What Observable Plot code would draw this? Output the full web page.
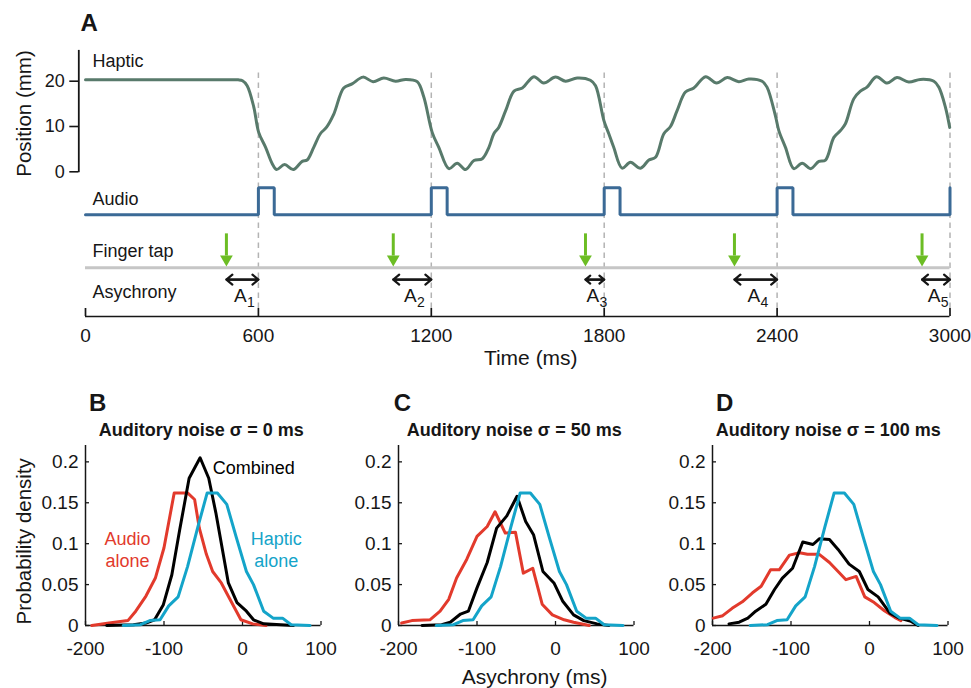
<!DOCTYPE html>
<html><head><meta charset="utf-8">
<script src="https://cdn.jsdelivr.net/npm/d3@7"></script>
<script src="https://cdn.jsdelivr.net/npm/@observablehq/plot@0.6"></script>
<style>
body{margin:0;background:#fff;}
#fig{position:relative;width:971px;height:688px;overflow:hidden;font-family:"Liberation Sans",Arial,Helvetica,sans-serif;}
#fig svg{position:absolute;}
</style></head><body><div id="fig"></div>
<script>
// ---------------- DATA ----------------
// Panel A
const timeTicks = [0, 600, 1200, 1800, 2400, 3000];
const stimOnsets = [600, 1200, 1800, 2400, 3000];
const pulseWidth = 55;
const tapTimes = [489, 1068, 1735, 2252, 2903];
const asyncNames = ["1", "2", "3", "4", "5"];
const hapticT = [0,180,360,500,530,545,561,584,601,625,648,663,691,721,752,769,792,815,836,862,896,925,963,998,1035,1076,1111,1151,1174,1203,1226,1261,1290,1319,1348,1377,1400,1417,1434,1458,1487,1516,1556,1590,1631,1666,1706,1752,1770,1799,1816,1833,1862,1891,1926,1955,1978,2007,2030,2053,2082,2111,2152,2190,2227,2267,2302,2348,2365,2394,2406,2429,2458,2487,2516,2545,2568,2597,2620,2637,2666,2689,2712,2745,2782,2816,2857,2897,2944,2961,2984,2999];
const hapticPos = [20.3,20.3,20.3,20.3,20.3,20.1,19,14.3,8.7,5.4,1.8,0.5,1.6,0.5,2.3,2.6,5.4,8.4,9.8,12.8,18.5,19.4,20.9,19.9,20.7,20,20.4,19.9,16.5,8.7,5.4,0.7,1.9,0.5,2.5,2.9,5.4,8.4,9.8,13.5,17.8,18.5,21,19.6,20.9,20,20.7,20.2,19,11.3,8.4,5.4,0.8,2.1,0.8,2.6,3.2,8.4,10,13.5,17.6,18.5,21,19.6,20.8,19.9,20.5,20,18.7,12.4,9.1,5.4,0.7,1.9,0.7,2.3,2.6,7.6,9.1,10.6,16.1,17.8,18.7,21,19.6,20.8,19.8,20.4,20,18.7,14.3,9.8];
const laneNames = ["Haptic", "Audio", "Finger tap", "Asychrony"];

// Panels B-D
const asyncTicks = [-200, -100, 0, 100];
const densityTicks = [0, 0.05, 0.1, 0.15, 0.2];
const hapticAloneX = [-152,-130,-118,-105,-94,-82,-70,-57,-45,-32,-20,-8,5,14,27,39,51,62,86];
const hapticAloneY = [0,0.001,0.006,0.007,0.024,0.035,0.072,0.12,0.162,0.162,0.148,0.108,0.066,0.05,0.0175,0.009,0.009,0.001,0];
const audioB_X = [-192,-170,-146,-136,-123,-111,-100,-87,-70,-61,-55,-46,-38,-27,-17,-2,13,30];
const audioB_Y = [0,0.003,0.006,0.0175,0.036,0.058,0.095,0.162,0.162,0.154,0.119,0.087,0.066,0.052,0.034,0.007,0.002,0];
const combinedB_X = [-173,-139,-123,-112,-101,-90,-80,-68,-54,-43,-34,-26,-18,-7,5,14,27,65];
const combinedB_Y = [0,0.001,0.003,0.007,0.025,0.062,0.117,0.180,0.205,0.180,0.138,0.095,0.052,0.028,0.0175,0.007,0.002,0];
const audioC_X = [-196,-183,-160,-147,-136,-126,-113,-100,-87,-77,-64,-51,-41,-29,-17,-4,11,23,43];
const audioC_Y = [0.003,0.006,0.007,0.0175,0.032,0.058,0.081,0.109,0.121,0.139,0.113,0.114,0.064,0.070,0.026,0.013,0.007,0.004,0];
const combinedC_X = [-170,-145,-134,-121,-111,-100,-87,-75,-62,-49,-38,-28,-16,-2,9,23,36,53,68];
const combinedC_Y = [0,0.001,0.004,0.014,0.0175,0.046,0.077,0.119,0.134,0.158,0.127,0.111,0.066,0.052,0.030,0.013,0.006,0.002,0];
const audioD_X = [-199,-187,-175,-162,-149,-138,-126,-115,-102,-89,-79,-64,-51,-40,-30,-17,-6,6,19,32,40];
const audioD_Y = [0.009,0.012,0.021,0.029,0.040,0.048,0.068,0.068,0.086,0.089,0.087,0.087,0.077,0.066,0.056,0.060,0.035,0.028,0.018,0.010,0.006];
const combinedD_X = [-179,-166,-155,-145,-132,-121,-111,-98,-85,-72,-64,-51,-40,-26,-13,-2,11,26,38,53,62];
const combinedD_Y = [0.002,0.004,0.009,0.0175,0.026,0.044,0.058,0.070,0.102,0.099,0.106,0.105,0.093,0.075,0.066,0.044,0.035,0.015,0.009,0.005,0];
const panelTitles = ["Auditory noise σ = 0 ms", "Auditory noise σ = 50 ms", "Auditory noise σ = 100 ms"];
const panelLetters = ["B", "C", "D"];

// ---------------- STYLE / LAYOUT ----------------
const FONT = "Liberation Sans, Arial, Helvetica, sans-serif";
const INK = "#161616";
const C_HAPTIC = "#587a6b", C_AUDIO = "#3b6a96", C_TAP = "#c6c6c6", C_GREEN = "#6cbd24", C_DASH = "#b3b3b3";
const C_RED = "#e23a2c", C_CYAN = "#14a4c9", C_BLACK = "#000";
const baseStyle = {fontFamily: FONT, background: "transparent", overflow: "visible", color: INK};
const MID = {textAnchor: "middle", lineAnchor: "middle"};

// Panel A lanes, expressed in the position (mm) scale
const UNIT = (171.3 - 80.7) / 20; // px per mm
const LANE = {
  yAxisTop: 26.8, dashTop: 22.7, dashBottom: -30.2, axis: -31.94,
  labels: [24.3, -6.1, -17.5, -26.6],
  audioLow: -9.5, audioHigh: -3.5,
  tapTop: -13.7, tapShaftEnd: -18.6, tapHead: -19.29, tapLine: -21.2,
  async: -23.8, asyncLabel: -27.3
};

const rows = (xs, ys) => xs.map((x, i) => ({x, y: ys[i]}));
const fig = document.getElementById("fig");
function place(svg, left, top) { svg.style.left = left + "px"; svg.style.top = top + "px"; fig.appendChild(svg); }

// ---------------- PANEL A ----------------
const haptic = rows(hapticT, hapticPos);
const audioSteps = [{x: 0, y: LANE.audioLow}];
for (const t of stimOnsets) {
  audioSteps.push({x: t, y: LANE.audioLow}, {x: t, y: LANE.audioHigh});
  if (t + pulseWidth <= 3000) audioSteps.push({x: t + pulseWidth, y: LANE.audioHigh}, {x: t + pulseWidth, y: LANE.audioLow});
}
const asyncRows = tapTimes.map((tap, i) => ({tap, stim: stimOnsets[i], mid: (tap + stimOnsets[i]) / 2, name: asyncNames[i]}));
const triDown = {draw(ctx, size) { const y = Math.sqrt(size / (3 * Math.sqrt(3))); ctx.moveTo(0, 2 * y); ctx.lineTo(-Math.sqrt(3) * y, -y); ctx.lineTo(Math.sqrt(3) * y, -y); ctx.closePath(); }};

const plotA = Plot.plot({
  width: 971, height: 370,
  marginLeft: 85, marginRight: 21.5, marginTop: 0, marginBottom: 54,
  style: baseStyle,
  x: {domain: [0, 3000]},
  y: {domain: [0, 20], range: [171.3, 80.7]},
  marks: [
    Plot.ruleX(stimOnsets, {y1: LANE.dashBottom, y2: LANE.dashTop, stroke: C_DASH, strokeWidth: 1.5, strokeDasharray: "5.5,4.5"}),
    // axes
    Plot.ruleX([0], {y1: -0.2, y2: LANE.yAxisTop, dx: -6.7, stroke: INK, strokeWidth: 1.8}),
    Plot.axisY({ticks: [0, 10, 20], tickFormat: d => String(d), tickSize: 9, tickPadding: 5, dx: -6.7, fontSize: 18, label: null, stroke: INK, strokeWidth: 1.6}),
    Plot.ruleY([LANE.axis], {x1: 0, x2: 3000, stroke: INK, strokeWidth: 1.7}),
    Plot.ruleX(timeTicks, {y1: LANE.axis, y2: LANE.axis + 8 / UNIT, stroke: INK, strokeWidth: 1.7}),
    Plot.axisX({ticks: timeTicks, tickFormat: d => String(d), tickSize: 0, tickPadding: 12, fontSize: 19, label: null}),
    Plot.text(["Time (ms)"], {frameAnchor: "bottom", ...MID, dx: 13, dy: 42, fontSize: 21, fill: INK}),
    Plot.text(["Position (mm)"], {frameAnchor: "top-left", ...MID, dx: -61, dy: 113, rotate: -90, fontSize: 20.5, fill: INK}),
    Plot.text(["A"], {frameAnchor: "top-left", textAnchor: "start", lineAnchor: "middle", dx: -5, dy: 23, fontSize: 24, fontWeight: "bold", fill: INK}),
    // lane labels
    Plot.text(laneNames, {x: 0, y: (d, i) => LANE.labels[i], dx: 7, textAnchor: "start", fontSize: 18, fill: INK}),
    // finger tap
    Plot.ruleY([LANE.tapLine], {x1: 0, x2: 3000, stroke: C_TAP, strokeWidth: 3}),
    Plot.ruleX(tapTimes, {y1: LANE.tapTop, y2: LANE.tapShaftEnd, stroke: C_GREEN, strokeWidth: 3}),
    Plot.dot(tapTimes, {x: d => d, y: LANE.tapHead, symbol: triDown, r: 4.72, fill: C_GREEN, stroke: "none"}),
    // asynchrony arrows
    Plot.arrow(asyncRows, {x1: "tap", x2: "stim", y1: LANE.async, y2: LANE.async, stroke: INK, strokeWidth: 2.2, headLength: 5.3, headAngle: 80}),
    Plot.arrow(asyncRows, {x1: "stim", x2: "tap", y1: LANE.async, y2: LANE.async, stroke: INK, strokeWidth: 2.2, headLength: 5.3, headAngle: 80}),
    Plot.text(asyncRows, {x: "mid", y: LANE.asyncLabel, text: () => "A", dx: -2, fontSize: 19, fill: INK}),
    Plot.text(asyncRows, {x: "mid", y: LANE.asyncLabel, text: "name", dx: 8.5, dy: 6.7, fontSize: 14, fill: INK}),
    // audio
    Plot.line(audioSteps, {x: "x", y: "y", stroke: C_AUDIO, strokeWidth: 3, strokeLinejoin: "miter"}),
    // haptic
    Plot.line(haptic, {x: "x", y: "y", stroke: C_HAPTIC, strokeWidth: 3, curve: "catmull-rom", strokeLinejoin: "round"})
  ]
});
place(plotA, 0, 0);

// ---------------- PANELS B-D ----------------
const panels = [
  {audio: rows(audioB_X, audioB_Y), combined: rows(combinedB_X, combinedB_Y)},
  {audio: rows(audioC_X, audioC_Y), combined: rows(combinedC_X, combinedC_Y)},
  {audio: rows(audioD_X, audioD_Y), combined: rows(combinedD_X, combinedD_Y)}
];
const hapticAlone = rows(hapticAloneX, hapticAloneY);
const panelLeft = [0, 313, 626.5];
const yMax = 0.22, frameH = 180;

panels.forEach((p, k) => {
  const marks = [
    Plot.ruleY([0], {stroke: INK, strokeWidth: 1.5}),
    Plot.ruleX([-200], {stroke: INK, strokeWidth: 1.5}),
    Plot.ruleX(asyncTicks, {y1: 0, y2: yMax * 4 / frameH, stroke: INK, strokeWidth: 1.3}),
    Plot.ruleY(densityTicks, {x1: -200, x2: -200 + 300 * 4 / 235.5, stroke: INK, strokeWidth: 1.3}),
    Plot.axisX({ticks: asyncTicks, tickFormat: d => String(d), tickSize: 0, tickPadding: 16, fontSize: 19, label: null}),
    Plot.axisY({ticks: densityTicks, tickFormat: d => String(d), tickSize: 0, tickPadding: 7, fontSize: 19, label: null}),
    Plot.text([panelTitles[k]], {frameAnchor: "top", ...MID, dx: -2, dy: -15, fontSize: 18, fontWeight: "bold", fill: INK}),
    Plot.text([panelLetters[k]], {frameAnchor: "top-left", textAnchor: "start", lineAnchor: "middle", dx: k === 1 ? -4.7 : 3.4, dy: -42.5, fontSize: 24, fontWeight: "bold", fill: INK}),
    Plot.line(p.audio, {x: "x", y: "y", stroke: C_RED, strokeWidth: 3, strokeLinejoin: "round"}),
    Plot.line(p.combined, {x: "x", y: "y", stroke: C_BLACK, strokeWidth: 3, strokeLinejoin: "round"}),
    Plot.line(hapticAlone, {x: "x", y: "y", stroke: C_CYAN, strokeWidth: 3, strokeLinejoin: "round"})
  ];
  if (k === 0) {
    marks.push(
      Plot.text(["Probability density"], {frameAnchor: "top-left", ...MID, dx: -61, dy: 95.8, rotate: -90, fontSize: 20.5, fill: INK}),
      Plot.text(["Combined"], {x: -38, y: 0.192, textAnchor: "start", fontSize: 18, fill: C_BLACK}),
      Plot.text(["Audio\nalone"], {x: -146.5, y: 0.0934, lineHeight: 1.24, fontSize: 18, fill: C_RED}),
      Plot.text(["Haptic\nalone"], {x: 43, y: 0.0934, lineHeight: 1.24, fontSize: 18, fill: C_CYAN})
    );
  }
  if (k === 1) {
    marks.push(Plot.text(["Asychrony (ms)"], {frameAnchor: "bottom", ...MID, dx: 18.3, dy: 51.7, fontSize: 21, fill: INK}));
  }
  const svg = Plot.plot({
    width: 335.5, height: 308,
    marginLeft: 85, marginRight: 15, marginTop: 65, marginBottom: 63,
    style: baseStyle,
    x: {domain: [-200, 100]},
    y: {domain: [0, yMax]},
    marks
  });
  place(svg, panelLeft[k], 380);
});
</script></body></html>
